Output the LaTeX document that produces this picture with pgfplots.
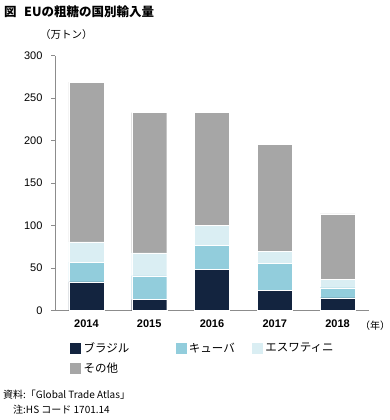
\documentclass[border=0pt]{standalone}
\usepackage{pgfplots}
\pgfplotsset{compat=1.18}
\usepackage{fontspec}
\setmainfont{Liberation Sans}
\newfontfamily\jp{Noto Sans CJK JP}
\definecolor{cBrazil}{HTML}{13243F}
\definecolor{cCuba}{HTML}{92CDDC}
\definecolor{cEsw}{HTML}{DAEEF3}
\definecolor{cOther}{HTML}{A6A6A6}
\definecolor{axgray}{HTML}{8C8C8C}
\begin{document}
\begin{tikzpicture}[x=1pt,y=1pt]
\path[use as bounding box] (0,0) rectangle (390,420);
% title
\node[anchor=west,inner sep=0pt] at (4,408) {\jp\bfseries\fontsize{12.5}{14}\selectfont 図\hspace{0.6em}EUの粗糖の国別輸入量};
\node[anchor=west,inner sep=0pt] at (40,385) {\jp\fontsize{10.5}{12}\selectfont （万トン）};
\begin{axis}[
  at={(86.4pt,109.3pt)}, anchor=origin,
  scale only axis, width=314pt, height=255pt,
  xmin=-0.5, xmax=4.5, ymin=0, ymax=300,
  ybar stacked, bar width=35pt,
  axis x line*=bottom, axis y line*=left,
  axis line style={axgray, line width=1pt, -},
  xtick={0,1,2,3,4},
  xticklabels={2014,2015,2016,2017,2018},
  x tick label style={font=\bfseries\fontsize{11}{13}\selectfont, yshift=-2pt},
  major x tick style={draw=none},
  extra x ticks={-0.5,0.5,1.5,2.5,3.5,4.5},
  extra x tick labels={},
  extra x tick style={tick style={axgray, line width=0.8pt}, major tick length=4pt},
  ytick={0,50,...,300},
  y tick label style={font=\fontsize{11}{13}\selectfont, xshift=-5pt},
  /pgf/number format/assume math mode=true,
  tick align=outside,
  major tick length=4pt,
  y tick style={axgray, line width=0.8pt},
  legend cell align=left,
  legend style={at={(0.035,-0.109)}, anchor=north west, draw=none, fill=none,
    font=\jp\fontsize{11.5}{13}\selectfont,
    legend columns=3,
    /tikz/every even column/.append style={column sep=0pt},
    row sep=5pt},
  legend image code/.code={\fill[#1] (0pt,-6pt) rectangle (12pt,6pt);},
  clip=false,
]
\addplot[fill=cBrazil, draw=white, line width=0.4pt] coordinates {(0,34) (1,13) (2,49) (3,24) (4,15)};
\addlegendentry{\makebox[89pt][l]{ブラジル}}
\addplot[fill=cCuba, draw=white, line width=0.4pt] coordinates {(0,23) (1,28) (2,28) (3,32) (4,12)};
\addlegendentry{\makebox[60pt][l]{キューバ}}
\addplot[fill=cEsw, draw=white, line width=0.4pt] coordinates {(0,24) (1,27) (2,23) (3,14) (4,10)};
\addlegendentry{\makebox[60pt][l]{エスワティニ}}
\addplot[fill=cOther, draw=white, line width=0.4pt] coordinates {(0,188) (1,165) (2,133) (3,126) (4,77)};
\addlegendentry{\makebox[89pt][l]{その他}}
\end{axis}
\node[anchor=west,inner sep=0pt] at (360,94) {\jp\fontsize{10}{12}\selectfont （年）};
\node[anchor=west,inner sep=0pt] at (3,25) {\jp\fontsize{10}{12}\selectfont 資料:「Global Trade Atlas」};
\node[anchor=west,inner sep=0pt] at (3,10) {\jp\fontsize{10}{12}\selectfont \phantom{資}注:HS コード 1701.14};
\end{tikzpicture}
\end{document}
